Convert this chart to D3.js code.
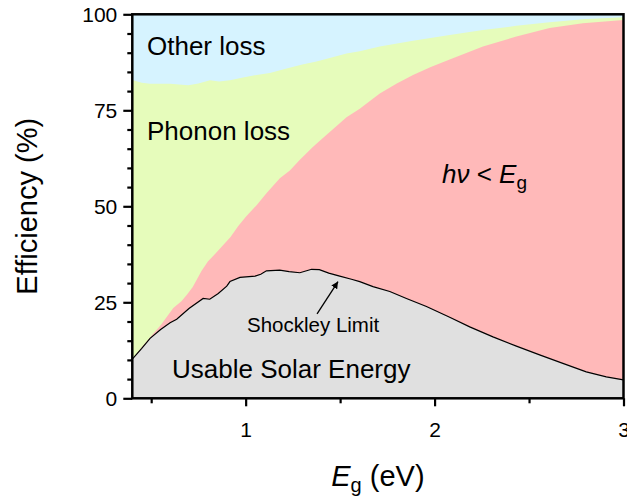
<!DOCTYPE html>
<html>
<head>
<meta charset="utf-8">
<script src="https://cdn.jsdelivr.net/npm/d3@7"></script>
<style>
    body { margin: 0; background: #fff; }
    svg { display: block; font-family: 'Liberation Sans', Arial, sans-serif; }
</style>
</head>
<body>
<svg id="chart"></svg>
<script>
// boundaries, [Eg (eV), efficiency (%)]
const shockley = [
    [0.40, 10.2], [0.45, 13.0], [0.494, 15.6], [0.55, 17.9], [0.60, 19.7], [0.635, 20.6],
    [0.70, 23.4], [0.775, 26.0], [0.81, 25.8], [0.855, 27.3], [0.90, 29.2], [0.917, 30.4],
    [0.97, 31.5], [1.05, 31.8], [1.08, 32.3], [1.11, 33.2], [1.18, 33.4], [1.23, 33.0],
    [1.287, 32.7], [1.349, 33.6], [1.39, 33.5], [1.44, 32.6], [1.498, 31.8], [1.56, 31.0],
    [1.604, 30.4], [1.674, 29.1], [1.763, 27.8], [1.851, 26.0], [1.957, 23.9], [2.08, 21.1],
    [2.186, 18.6], [2.309, 16.0], [2.433, 13.6], [2.556, 11.3], [2.679, 9.1], [2.803, 6.9],
    [2.909, 5.6], [3.0, 4.8]
];
const belowGap = [
    [0.40, 10.2], [0.45, 13.3], [0.50, 16.2], [0.55, 19.0], [0.617, 23.5], [0.66, 25.3],
    [0.69, 27.0], [0.72, 29.0], [0.767, 33.2], [0.80, 35.6], [0.85, 38.2], [0.92, 42.0],
    [0.96, 44.8], [1.00, 47.2], [1.058, 50.3], [1.11, 53.4], [1.181, 57.3], [1.234, 59.3],
    [1.287, 62.1], [1.357, 65.5], [1.40, 67.4], [1.498, 71.6], [1.534, 73.2], [1.604, 75.4],
    [1.71, 79.4], [1.80, 82.0], [1.886, 84.2], [1.98, 86.3], [2.08, 88.2], [2.256, 91.6],
    [2.433, 94.2], [2.609, 96.4], [2.785, 97.7], [3.0, 98.5]
];
const otherTop = [
    [0.40, 82.9], [0.45, 82.2], [0.494, 81.9], [0.60, 81.9], [0.696, 81.5], [0.75, 82.0],
    [0.811, 82.8], [0.86, 82.5], [0.917, 82.8], [0.98, 83.5], [1.058, 84.2], [1.128, 84.7],
    [1.217, 85.9], [1.30, 86.9], [1.375, 87.7], [1.45, 88.7], [1.534, 89.8], [1.604, 90.4],
    [1.71, 91.6], [1.886, 93.1], [2.08, 94.6], [2.256, 95.9], [2.433, 97.0], [2.609, 97.9],
    [2.785, 98.7], [3.0, 99.2]
];
const fullTop = [[0.4, 100], [3.0, 100]];
const arrowPts = [[1.378, 22.0], [1.489, 30.4]];

const xDomain = [0.4, 3.0];
const yDomain = [0, 100];
const xTicks = [1, 2, 3];
const xMinorTicks = [0.5, 1.5, 2.5];
const yTicks = [0, 25, 50, 75, 100];
const yMinorTicks = d3.range(5, 100, 5).filter(v => v % 25 !== 0);

const width = 627;
const height = 500;
const margin = { top: 14.3, right: 3.5, bottom: 101.7, left: 132.3 };

const svg = d3.select('#chart').attr('width', width).attr('height', height);

const x = d3.scaleLinear().domain(xDomain).range([margin.left, width - margin.right]);
const y = d3.scaleLinear().domain(yDomain).range([height - margin.bottom, margin.top]);

const area = d3.area()
    .x(d => x(d[0]))
    .y0(y(0))
    .y1(d => y(d[1]));

const layers = [
    { data: fullTop, color: '#d6f3ff' },
    { data: otherTop, color: '#e6fcbb' },
    { data: belowGap, color: '#ffb9b9' },
    { data: shockley, color: '#e0e0e0' }
];

svg.append('g')
    .selectAll('path')
    .data(layers)
    .enter()
    .append('path')
    .attr('d', d => area(d.data))
    .attr('fill', d => d.color);

svg.append('path')
    .datum(shockley)
    .attr('d', d3.line().x(d => x(d[0])).y(d => y(d[1])))
    .attr('fill', 'none')
    .attr('stroke', '#000')
    .attr('stroke-width', 1.2);

// arrow to the Shockley limit
svg.append('defs')
    .append('marker')
    .attr('id', 'arrow')
    .attr('viewBox', '0 -5 10 10')
    .attr('refX', 10)
    .attr('refY', 0)
    .attr('markerWidth', 7)
    .attr('markerHeight', 7)
    .attr('markerUnits', 'userSpaceOnUse')
    .attr('orient', 'auto')
    .append('path')
    .attr('d', 'M0,-5L10,0L0,5Z')
    .attr('fill', '#000');

svg.append('line')
    .attr('x1', x(arrowPts[0][0]))
    .attr('y1', y(arrowPts[0][1]))
    .attr('x2', x(arrowPts[1][0]))
    .attr('y2', y(arrowPts[1][1]))
    .attr('stroke', '#000')
    .attr('stroke-width', 1.3)
    .attr('marker-end', 'url(#arrow)');

// frame
svg.append('rect')
    .attr('x', x.range()[0])
    .attr('y', y.range()[1])
    .attr('width', x.range()[1] - x.range()[0])
    .attr('height', y.range()[0] - y.range()[1])
    .attr('fill', 'none')
    .attr('stroke', '#000')
    .attr('stroke-width', 2.5);

// axes
const xAxis = svg.append('g')
    .attr('transform', `translate(0,${y(0)})`)
    .call(d3.axisBottom(x).tickValues(xTicks).tickSize(8).tickPadding(16).tickSizeOuter(0).tickFormat(d3.format('d')));
const xMinor = svg.append('g')
    .attr('transform', `translate(0,${y(0)})`)
    .call(d3.axisBottom(x).tickValues(xMinorTicks).tickSize(5).tickSizeOuter(0).tickFormat(''));
const yAxis = svg.append('g')
    .attr('transform', `translate(${x(xDomain[0])},0)`)
    .call(d3.axisLeft(y).tickValues(yTicks).tickSize(9).tickPadding(6).tickSizeOuter(0));
const yMinor = svg.append('g')
    .attr('transform', `translate(${x(xDomain[0])},0)`)
    .call(d3.axisLeft(y).tickValues(yMinorTicks).tickSize(5).tickSizeOuter(0).tickFormat(''));

[xAxis, xMinor, yAxis, yMinor].forEach(g => {
    g.select('.domain').remove();
    g.selectAll('line').attr('stroke', '#000').attr('stroke-width', 2.2);
    g.selectAll('text')
        .attr('fill', '#000')
        .style('font-size', '21px')
        .style('font-family', "'Liberation Sans', Arial, sans-serif");
});

// axis titles
svg.append('text')
    .attr('transform', `translate(37,${(y(0) + y(100)) / 2}) rotate(-90)`)
    .attr('text-anchor', 'middle')
    .style('font-size', '29px')
    .text('Efficiency (%)');

const xt = svg.append('text')
    .attr('x', (x.range()[0] + x.range()[1]) / 2)
    .attr('y', 486)
    .attr('text-anchor', 'middle')
    .style('font-size', '29px');
xt.append('tspan').style('font-style', 'italic').text('E');
xt.append('tspan').attr('dy', 6).style('font-size', '20px').text('g');
xt.append('tspan').attr('dy', -6).text(' (eV)');

// region labels
const labels = [
    { text: 'Other loss', x: 147, y: 55, size: 26 },
    { text: 'Phonon loss', x: 147, y: 140, size: 26 },
    { text: 'Usable Solar Energy', x: 172, y: 378, size: 26 },
    { text: 'Shockley Limit', x: 247, y: 332, size: 20.5 }
];
svg.append('g')
    .selectAll('text')
    .data(labels)
    .enter()
    .append('text')
    .attr('x', d => d.x)
    .attr('y', d => d.y)
    .style('font-size', d => d.size + 'px')
    .text(d => d.text);

const hv = svg.append('text')
    .attr('x', 442)
    .attr('y', 183)
    .style('font-size', '26px');
hv.append('tspan').style('font-style', 'italic').text('hν');
hv.append('tspan').text(' < ');
hv.append('tspan').style('font-style', 'italic').text('E');
hv.append('tspan').attr('dy', 6).style('font-size', '19px').text('g');
</script>
</body>
</html>
